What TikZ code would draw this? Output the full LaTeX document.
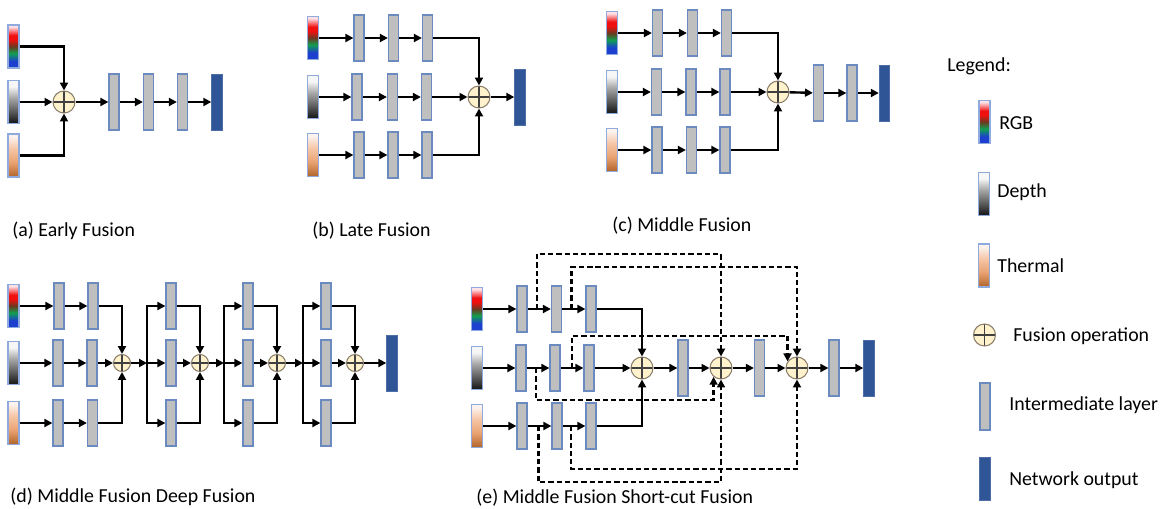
\documentclass[tikz,border=0pt]{standalone}
\usepackage{fontspec}
\setmainfont{Carlito}
\usetikzlibrary{arrows.meta,calc}

\definecolor{laygray}{HTML}{BFBFBF}
\definecolor{layedge}{HTML}{6A8AC0}
\definecolor{outblue}{HTML}{2F5597}
\definecolor{fusefill}{HTML}{FFF2CC}
\definecolor{fuseedge}{HTML}{8A7E6B}
\definecolor{inedge}{HTML}{8FAADC}
\definecolor{rgbBlue}{HTML}{1C3FD0}
\definecolor{rgbGreen}{HTML}{10A050}
\definecolor{rgbDark}{HTML}{6A3A20}
\definecolor{rgbRed}{HTML}{F01010}
\definecolor{rgbPink}{HTML}{FFE2E8}
\definecolor{depBlack}{HTML}{141414}
\definecolor{depDark}{HTML}{555555}
\definecolor{depMid}{HTML}{A8A8A8}
\definecolor{depWhite}{HTML}{F6F6F6}
\definecolor{thBrown}{HTML}{B0642A}
\definecolor{thOrange}{HTML}{E9A272}
\definecolor{thLight}{HTML}{F6C6A6}
\definecolor{thWhite}{HTML}{FCF3EF}

\pgfdeclareverticalshading{rgbsh}{100bp}{color(0bp)=(rgbBlue); color(25bp)=(rgbBlue); color(33bp)=(rgbBlue); color(42bp)=(rgbGreen); color(50bp)=(rgbDark); color(58bp)=(rgbRed); color(63bp)=(rgbRed); color(73bp)=(rgbPink); color(100bp)=(rgbPink)}
\pgfdeclareverticalshading{depsh}{100bp}{color(0bp)=(depBlack); color(25bp)=(depBlack); color(38bp)=(depDark); color(55bp)=(depMid); color(68bp)=(depWhite); color(75bp)=(depWhite); color(100bp)=(depWhite)}
\pgfdeclareverticalshading{thsh}{100bp}{color(0bp)=(thBrown); color(25bp)=(thBrown); color(42bp)=(thOrange); color(58bp)=(thLight); color(72bp)=(thWhite); color(100bp)=(thWhite)}

\tikzset{
  layer/.style={draw=layedge, fill=laygray, line width=0.7pt, minimum width=0.2cm, minimum height=0.92cm, inner sep=0pt},
  tall/.style={minimum height=1.12cm},
  outp/.style={draw=outblue!85!white, fill=outblue, line width=0.5pt, minimum width=0.21cm, minimum height=1.12cm, inner sep=0pt},
  inp/.style={draw=inedge, line width=0.7pt, minimum width=0.22cm, minimum height=0.86cm, inner sep=0pt, shade},
  rgbin/.style={inp, shading=rgbsh},
  depin/.style={inp, shading=depsh},
  therin/.style={inp, shading=thsh},
  fuse/.style={circle, draw=fuseedge, fill=fusefill, minimum size=0.44cm, inner sep=0pt, line width=0.6pt,
    path picture={\draw[line width=0.6pt, black!75] (path picture bounding box.north) -- (path picture bounding box.south) (path picture bounding box.west) -- (path picture bounding box.east);}},
  sfuse/.style={fuse, minimum size=0.34cm},
  arr/.style={-{Triangle[length=4.5pt,width=4.5pt]}, line width=1.35pt},
  dsh/.style={arr, dash pattern=on 3pt off 1.7pt},
  captxt/.style={anchor=base west, inner sep=0pt, font=\fontsize{11.3}{13}\selectfont},
}

\begin{document}
\begin{tikzpicture}[x=0.02cm, y=-0.02cm]
\useasboundingbox (0,0) rectangle (1161,508);

% ---------------- (a) Early Fusion
\node[rgbin] (aR) at (13.5,46.5) {};
\node[depin] (aD) at (13.5,102) {};
\node[therin] (aT) at (13.5,155.5) {};
\node[fuse] (aF) at (64,102) {};
\node[layer,tall] (aL1) at (114,102) {};
\node[layer,tall] (aL2) at (148.5,102) {};
\node[layer,tall] (aL3) at (182.5,102) {};
\node[outp] (aO) at (217,102) {};
\draw[arr] (aR) -| (aF);
\draw[arr] (aD) -- (aF);
\draw[arr] (aT) -| (aF);
\draw[arr] (aF) -- (aL1);
\draw[arr] (aL1) -- (aL2);
\draw[arr] (aL2) -- (aL3);
\draw[arr] (aL3) -- (aO);
\node[captxt] (aC) at (12,236) {(a) Early Fusion};

% ---------------- (b) Late Fusion
\node[rgbin] (bR) at (313,38) {};
\node[depin] (bD) at (313,97) {};
\node[therin] (bT) at (313,155) {};
\node[layer] (bL11) at (359,38) {};
\node[layer] (bL12) at (393.5,38) {};
\node[layer] (bL13) at (427.5,38) {};
\node[layer] (bL21) at (357,97) {};
\node[layer] (bL22) at (392.5,97) {};
\node[layer] (bL23) at (426.5,97) {};
\node[layer] (bL31) at (359,155) {};
\node[layer] (bL32) at (393,155) {};
\node[layer] (bL33) at (427,155) {};
\node[fuse] (bF) at (479,97) {};
\node[outp] (bO) at (520,97) {};
\draw[arr] (bR) -- (bL11); \draw[arr] (bL11) -- (bL12); \draw[arr] (bL12) -- (bL13);
\draw[arr] (bD) -- (bL21); \draw[arr] (bL21) -- (bL22); \draw[arr] (bL22) -- (bL23);
\draw[arr] (bT) -- (bL31); \draw[arr] (bL31) -- (bL32); \draw[arr] (bL32) -- (bL33);
\draw[arr] (bL13) -| (bF);
\draw[arr] (bL23) -- (bF);
\draw[arr] (bL33) -| (bF);
\draw[arr] (bF) -- (bO);
\node[captxt] (bC) at (312,236) {(b) Late Fusion};

% ---------------- (c) Middle Fusion
\node[rgbin] (cR) at (612,33) {};
\node[depin] (cD) at (612,92) {};
\node[therin] (cT) at (612,150) {};
\node[layer] (cL11) at (657.5,33) {};
\node[layer] (cL12) at (692.5,33) {};
\node[layer] (cL13) at (726.5,33) {};
\node[layer] (cL21) at (656.5,92) {};
\node[layer] (cL22) at (691,92) {};
\node[layer] (cL23) at (725,92) {};
\node[layer] (cL31) at (657,150) {};
\node[layer] (cL32) at (691.5,150) {};
\node[layer] (cL33) at (725,150) {};
\node[fuse] (cF) at (778,92) {};
\node[layer,tall] (cP1) at (818.5,93) {};
\node[layer,tall] (cP2) at (852,93) {};
\node[outp] (cO) at (884.5,93) {};
\draw[arr] (cR) -- (cL11); \draw[arr] (cL11) -- (cL12); \draw[arr] (cL12) -- (cL13);
\draw[arr] (cD) -- (cL21); \draw[arr] (cL21) -- (cL22); \draw[arr] (cL22) -- (cL23);
\draw[arr] (cT) -- (cL31); \draw[arr] (cL31) -- (cL32); \draw[arr] (cL32) -- (cL33);
\draw[arr] (cL13) -| (cF);
\draw[arr] (cL23) -- (cF);
\draw[arr] (cL33) -| (cF);
\draw[arr] (cF) -- (cP1);
\draw[arr] (cP1) -- (cP2);
\draw[arr] (cP2) -- (cO);
\node[captxt] (cC) at (612,231) {(c) Middle Fusion};

% ---------------- (d) Middle Fusion Deep Fusion
\node[rgbin] (dR) at (13.5,306) {};
\node[depin] (dD) at (13.5,363) {};
\node[therin] (dT) at (13.5,423) {};
\node[layer] (dU0a) at (59,306) {};
\node[layer] (dU0b) at (93,306) {};
\node[layer] (dM0a) at (58,363) {};
\node[layer] (dM0b) at (92,363) {};
\node[layer] (dW0a) at (58,423) {};
\node[layer] (dW0b) at (92.5,423) {};
\node[sfuse] (dF0) at (122,363) {};
\draw[arr] (dR) -- (dU0a); \draw[arr] (dU0a) -- (dU0b);
\draw[arr] (dD) -- (dM0a); \draw[arr] (dM0a) -- (dM0b);
\draw[arr] (dT) -- (dW0a); \draw[arr] (dW0a) -- (dW0b);
\draw[arr] (dU0b) -| (dF0);
\draw[arr] (dM0b) -- (dF0);
\draw[arr] (dW0b) -| (dF0);
\foreach \ka/\kb/\bx/\lx/\cx in {1/0/147/171/200, 2/1/224/248/277, 3/2/303/326/355} {
  \coordinate (dB\ka) at (\bx,363);
  \node[layer] (dU\ka) at (\lx,306) {};
  \node[layer] (dM\ka) at (\lx,363) {};
  \node[layer] (dW\ka) at (\lx,423) {};
  \node[sfuse] (dF\ka) at (\cx,363) {};
  \draw[arr] (dF\kb) -- (dB\ka);
  \draw[arr] (dB\ka) |- (dU\ka);
  \draw[arr] (dB\ka) -- (dM\ka);
  \draw[arr] (dB\ka) |- (dW\ka);
  \draw[arr] (dU\ka) -| (dF\ka);
  \draw[arr] (dM\ka) -- (dF\ka);
  \draw[arr] (dW\ka) -| (dF\ka);
}
\node[outp] (dO) at (392,363) {};
\draw[arr] (dF3) -- (dO);
\node[captxt] (dC) at (10,502) {(d) Middle Fusion Deep Fusion};

% ---------------- (e) Middle Fusion Short-cut Fusion
\node[rgbin] (eR) at (477,309) {};
\node[depin] (eD) at (477,368) {};
\node[therin] (eT) at (477,426) {};
\node[layer] (eL11) at (522,309) {};
\node[layer] (eL12) at (556.5,309) {};
\node[layer] (eL13) at (591,309) {};
\node[layer] (eL21) at (521,368) {};
\node[layer] (eL22) at (555,368) {};
\node[layer] (eL23) at (589,368) {};
\node[layer] (eL31) at (522,426) {};
\node[layer] (eL32) at (557,426) {};
\node[layer] (eL33) at (591,426) {};
\node[fuse] (eF1) at (642,368) {};
\node[layer,tall] (eM1) at (683,368) {};
\node[fuse] (eF2) at (721,368) {};
\node[layer,tall] (eM2) at (759.5,368) {};
\node[fuse] (eF3) at (797,368) {};
\node[layer,tall] (eM3) at (834,368) {};
\node[outp] (eO) at (869,368) {};
\draw[arr] (eR) -- (eL11); \draw[arr] (eL11) -- (eL12); \draw[arr] (eL12) -- (eL13);
\draw[arr] (eD) -- (eL21); \draw[arr] (eL21) -- (eL22); \draw[arr] (eL22) -- (eL23);
\draw[arr] (eT) -- (eL31); \draw[arr] (eL31) -- (eL32); \draw[arr] (eL32) -- (eL33);
\draw[arr] (eL13) -| (eF1);
\draw[arr] (eL23) -- (eF1);
\draw[arr] (eL33) -| (eF1);
\draw[arr] (eF1) -- (eM1);
\draw[arr] (eM1) -- (eF2);
\draw[arr] (eF2) -- (eM2);
\draw[arr] (eM2) -- (eF3);
\draw[arr] (eF3) -- (eM3);
\draw[arr] (eM3) -- (eO);
% short-cut taps
\coordinate (e1a) at ($(eL11.east)!0.4!(eL12.west)$);
\coordinate (e1b) at ($(eL12.east)!0.4!(eL13.west)$);
\coordinate (e2a) at ($(eL21.east)!0.4!(eL22.west)$);
\coordinate (e2b) at ($(eL22.east)!0.5!(eL23.west)$);
\coordinate (e3a) at ($(eL31.east)!0.45!(eL32.west)$);
\coordinate (e3b) at ($(eL32.east)!0.38!(eL33.west)$);
\draw[dsh] (e1a) -- (e1a |- 0,254) -| (eF2.north);
\draw[dsh] (e1b) -- (e1b |- 0,267) -| (eF3.north);
\draw[dsh] (e2b) -- (e2b |- 0,336) -| (eF3.145);
\draw[dsh] (e2a) -- (e2a |- 0,400) -| (eF2.230);
\draw[dsh] (e3a) -- (e3a |- 0,482) -| (eF2.south);
\draw[dsh] (e3b) -- (e3b |- 0,469) -| (eF3.south);
\node[captxt] (eC) at (476,503) {(e) Middle Fusion Short-cut Fusion};

% ---------------- Legend
\node[captxt] (lgT) at (947,71) {Legend:};
\node[rgbin] (lgR) at (984.5,122) {};
\node[captxt] (lgRt) at (999,129) {RGB};
\node[depin] (lgD) at (984,194) {};
\node[captxt] (lgDt) at (997,197) {Depth};
\node[therin] (lgTh) at (984,265.5) {};
\node[captxt] (lgTht) at (997,272) {Thermal};
\node[fuse] (lgF) at (984.5,335) {};
\node[captxt] (lgFt) at (1013,341) {Fusion operation};
\node[layer, minimum height=0.94cm] (lgL) at (985,406.5) {};
\node[captxt] (lgLt) at (1009,410) {Intermediate layer};
\node[outp, minimum height=0.86cm] (lgO) at (985,478.5) {};
\node[captxt] (lgOt) at (1009,485) {Network output};
\end{tikzpicture}
\end{document}
